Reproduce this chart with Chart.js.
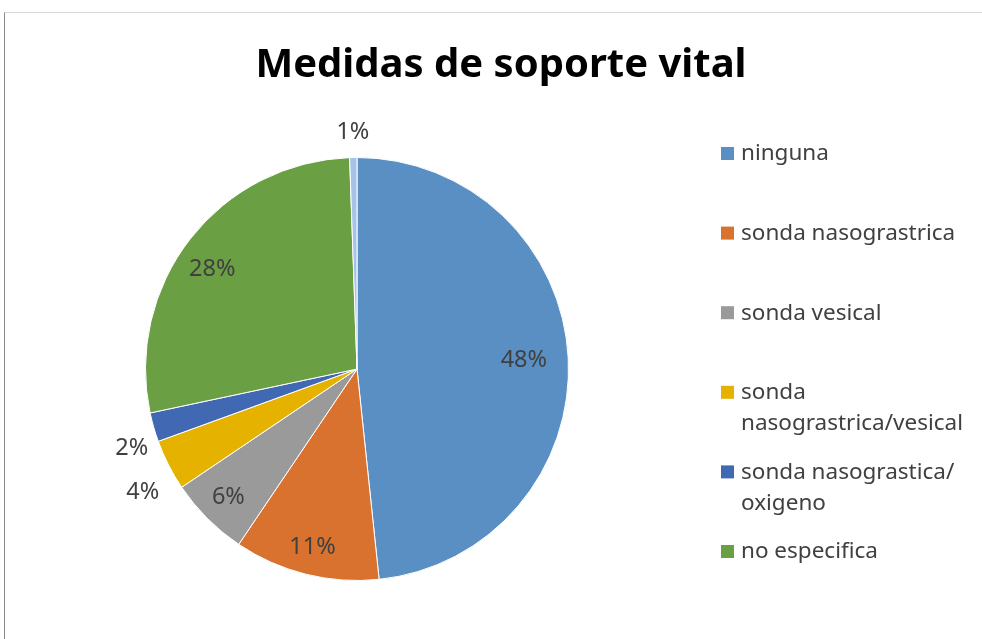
<!DOCTYPE html>
<html>
<head>
<meta charset="utf-8">
<script src="https://cdn.jsdelivr.net/npm/chart.js@4.4.0/dist/chart.umd.min.js"></script>
<style>
  html, body { margin: 0; padding: 0; background: #fff; }
  #wrap { position: relative; width: 982px; height: 639px; }
  #frame { position: absolute; left: 4px; top: 12px; right: 0; bottom: 0;
           border-top: 1px solid #d9d9d9; border-left: 1px solid #8a8a8a; pointer-events: none; }
</style>
</head>
<body>
<div id="wrap">
  <canvas id="pieChart" width="982" height="639"></canvas>
  <div id="frame"></div>
</div>
<script>
// Categorieen en waarden (aantallen)
var categories = ["ninguna", "sonda nasograstrica", "sonda vesical",
    ["sonda", "nasograstrica/vesical"], ["sonda nasograstica/", "oxigeno"],
    "no especifica", ""];
var counts = [87, 20, 11, 7, 4, 50, 1];
var colors = ["#5A8FC4", "#D8722E", "#9A9A9A", "#E5B200", "#4169B3", "#6A9F44", "#A5C3E7"];

var textColor = "#404040";
var fontName = "'Noto Sans', 'Open Sans', sans-serif";

// Percentage labels op de taartpunten
var pieLabels = {
    id: "pieLabels",
    afterDatasetsDraw: function (chart, args, opts) {
        var ctx = chart.ctx;
        var meta = chart.getDatasetMeta(0);
        var data = chart.data.datasets[0].data;
        var total = data.reduce(function (a, b) { return a + b; }, 0);
        ctx.save();
        ctx.font = "23.5px " + fontName;
        ctx.fillStyle = textColor;
        ctx.textAlign = "center";
        ctx.textBaseline = "middle";
        meta.data.forEach(function (arc, i) {
            var mid = (arc.startAngle + arc.endAngle) / 2 + opts.shift[i] * Math.PI / 180;
            var r = arc.outerRadius * opts.radius[i];
            var x = arc.x + Math.cos(mid) * r;
            var y = arc.y + Math.sin(mid) * r;
            ctx.fillText(Math.round(data[i] / total * 100) + "%", x, y);
        });
        ctx.restore();
    }
};

// Titel en legenda
var titleLegend = {
    id: "titleLegend",
    afterDraw: function (chart, args, opts) {
        var ctx = chart.ctx;
        ctx.save();
        ctx.fillStyle = "#000";
        ctx.font = "bold 40px " + fontName;
        ctx.textAlign = "center";
        ctx.textBaseline = "alphabetic";
        ctx.fillText(opts.title, 501, 77);

        ctx.font = "22.5px " + fontName;
        ctx.textAlign = "left";
        ctx.textBaseline = "middle";
        var y = 154;
        chart.data.labels.forEach(function (label, i) {
            if (label === "") return;
            var lines = Array.isArray(label) ? label : [label];
            ctx.fillStyle = colors[i];
            ctx.fillRect(721, y - 7, 13, 13);
            ctx.fillStyle = textColor;
            lines.forEach(function (line, j) {
                ctx.fillText(line, 741, y + j * 31);
            });
            y += 79.6;
        });
        ctx.restore();
    }
};

window.onload = function () {
    var ctx = document.getElementById("pieChart").getContext("2d");
    new Chart(ctx, {
        type: "pie",
        data: {
            labels: categories,
            datasets: [{
                data: counts,
                backgroundColor: colors,
                borderColor: "#ffffff",
                borderWidth: 1
            }]
        },
        options: {
            responsive: false,
            animation: false,
            layout: { padding: { left: 145, right: 413, top: 157, bottom: 58 } },
            plugins: {
                legend: { display: false },
                title: { display: false },
                tooltip: { enabled: false },
                titleLegend: { title: "Medidas de soporte vital" },
                pieLabels: {
                    radius: [0.79, 0.87, 0.86, 1.17, 1.13, 0.83, 1.12],
                    shift: [0, 0, 0, -3, -3.5, -3.5, 0]
                }
            }
        },
        plugins: [pieLabels, titleLegend]
    });
};
</script>
</body>
</html>
